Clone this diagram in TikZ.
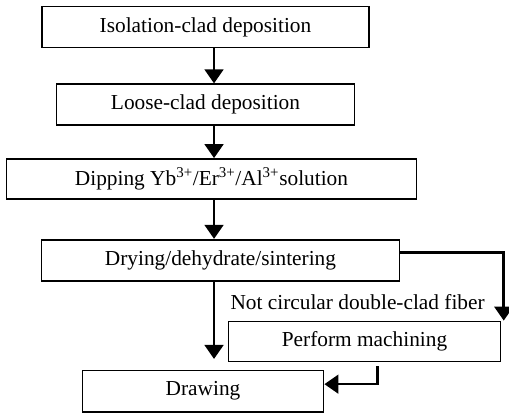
\documentclass[tikz,border=0pt]{standalone}
\usepackage{fontspec}
\setmainfont{Liberation Serif}
\usetikzlibrary{positioning,arrows.meta}

\begin{document}
\begin{tikzpicture}[
box/.style = {shape=rectangle, draw, line width=1.3pt, minimum height=30.75pt, inner sep=2pt,
              font=\fontsize{16pt}{19pt}\selectfont},
arr/.style = {line width=2pt, -{Triangle[length=10.5pt,width=14pt]}},
]
  \useasboundingbox (-154.1pt,20.25pt) rectangle (227.6pt,-291pt);
  \node[box, minimum width=245.25pt] (iso) at (0,0) {Isolation-clad deposition};
  \node[box, minimum width=223.5pt, below=26.25pt of iso] (loose) {Loose-clad deposition};
  \node[box, minimum width=307.5pt, minimum height=30pt, below=24pt of loose, xshift=4.5pt] (dip)
    {Dipping Yb\textsuperscript{3+}/Er\textsuperscript{3+}/Al\textsuperscript{3+}solution};
  \node[box, minimum width=268.5pt, below=29.25pt of dip, xshift=6.75pt] (dry) {Drying/dehydrate/sintering};
  \node[box, minimum width=204pt, minimum height=30pt, below=29.25pt of dry, xshift=108pt] (machine) {Perform machining};
  \node[box, minimum width=180.75pt, minimum height=31pt, below=66pt of dry, xshift=-13.1pt] (drawing) {Drawing};
  \node[anchor=base west, inner sep=0pt, font=\fontsize{16pt}{19pt}\selectfont]
    (cond) at ([shift={(2pt,8pt)}]machine.north west) {Not circular double-clad fiber};

  % main line
  \coordinate (spine) at (6.4pt,0);
  \draw[arr] (iso.south -| spine) -- (loose.north -| spine);
  \draw[arr] (loose.south -| spine) -- (dip.north -| spine);
  \draw[arr] (dip.south -| spine) -- (dry.north -| spine);
  \draw[arr, shorten >=8pt] (dry.south -| spine) -- (drawing.north -| spine);

  % side branch
  \coordinate (turn) at ([shift={(77.5pt,5.6pt)}]dry.east);
  \draw[arr] ([yshift=5.6pt]dry.east) -- (turn) -- (turn |- machine.north);
  \draw[arr] ([xshift=9.75pt,yshift=-3pt]machine.south) |- ([yshift=5.25pt]drawing.east);
\end{tikzpicture}
\end{document}
